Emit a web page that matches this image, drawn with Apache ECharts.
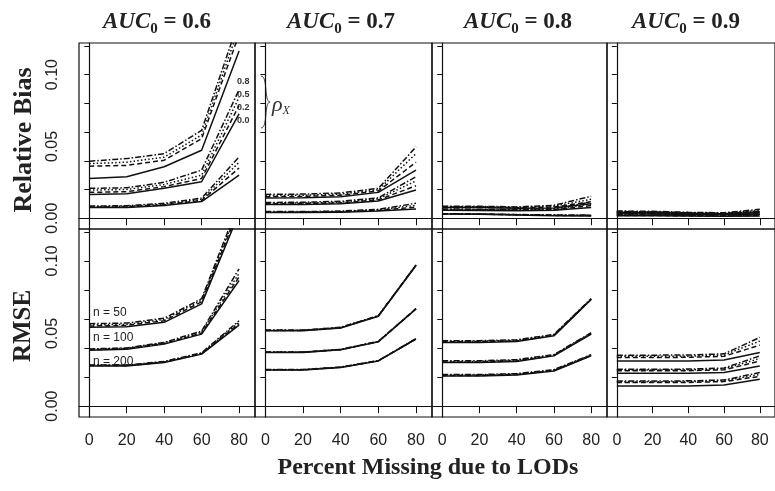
<!DOCTYPE html>
<html>
<head>
<meta charset="utf-8">
<script src="https://cdn.jsdelivr.net/npm/echarts@6/dist/echarts.min.js"></script>
<style>
  html, body { margin: 0; padding: 0; background: #fff; }
  #chart { width: 775px; height: 491px; }
</style>
</head>
<body>
<div id="chart"></div>
<script>
// Percent of values missing due to limits of detection (x axis)
const percentMissing = [0, 20, 40, 60, 80];
const xTicks = [0, 20, 40, 60, 80];
const yTicks = [0, 0.02, 0.04, 0.06, 0.08, 0.10, 0.12];
const yLabels = [0, 0.05, 0.10];
const aucLevels = ['0.6', '0.7', '0.8', '0.9'];
const rhoLevels = ['0.0', '0.2', '0.5', '0.8'];
const sampleSizes = [50, 100, 200];

// Relative bias; each array holds one row per rho level (0.0, 0.2, 0.5, 0.8)
const biasAuc06N50 = [
  [0.0277, 0.0289, 0.0358, 0.0473, 0.1165],
  [0.0362, 0.0368, 0.0404, 0.0554, 0.1280],
  [0.0380, 0.0390, 0.0425, 0.0580, 0.1330],
  [0.0397, 0.0415, 0.0450, 0.0612, 0.1380]
];
const biasAuc06N100 = [
  [0.0166, 0.0170, 0.0208, 0.0254, 0.0727],
  [0.0180, 0.0185, 0.0220, 0.0277, 0.0785],
  [0.0196, 0.0200, 0.0235, 0.0300, 0.0842],
  [0.0208, 0.0212, 0.0250, 0.0335, 0.0895]
];
const biasAuc06N200 = [
  [0.0074, 0.0074, 0.0088, 0.0116, 0.0300],
  [0.0078, 0.0079, 0.0093, 0.0124, 0.0350],
  [0.0081, 0.0083, 0.0098, 0.0131, 0.0390],
  [0.0085, 0.0087, 0.0104, 0.0140, 0.0427]
];
const biasAuc07N50 = [
  [0.0140, 0.0142, 0.0150, 0.0180, 0.0335],
  [0.0150, 0.0152, 0.0160, 0.0190, 0.0390],
  [0.0158, 0.0160, 0.0168, 0.0198, 0.0450],
  [0.0166, 0.0168, 0.0176, 0.0208, 0.0496]
];
const biasAuc07N100 = [
  [0.0095, 0.0096, 0.0100, 0.0120, 0.0196],
  [0.0100, 0.0101, 0.0106, 0.0128, 0.0226],
  [0.0105, 0.0106, 0.0112, 0.0135, 0.0260],
  [0.0110, 0.0111, 0.0118, 0.0142, 0.0289]
];
const biasAuc07N200 = [
  [0.0040, 0.0040, 0.0042, 0.0050, 0.0065],
  [0.0042, 0.0042, 0.0045, 0.0054, 0.0078],
  [0.0044, 0.0044, 0.0047, 0.0058, 0.0090],
  [0.0046, 0.0046, 0.0050, 0.0062, 0.0104]
];
const biasAuc08N50 = [
  [0.0075, 0.0074, 0.0070, 0.0072, 0.0100],
  [0.0078, 0.0077, 0.0073, 0.0078, 0.0115],
  [0.0081, 0.0080, 0.0076, 0.0084, 0.0132],
  [0.0084, 0.0083, 0.0079, 0.0090, 0.0153]
];
const biasAuc08N100 = [
  [0.0055, 0.0054, 0.0052, 0.0055, 0.0075],
  [0.0058, 0.0057, 0.0055, 0.0059, 0.0088],
  [0.0061, 0.0060, 0.0058, 0.0063, 0.0100],
  [0.0064, 0.0063, 0.0061, 0.0067, 0.0112]
];
const biasAuc08N200 = [
  [0.0030, 0.0027, 0.0022, 0.0018, 0.0015],
  [0.0030, 0.0028, 0.0024, 0.0020, 0.0018],
  [0.0031, 0.0029, 0.0025, 0.0022, 0.0020],
  [0.0032, 0.0030, 0.0026, 0.0023, 0.0022]
];
const biasAuc09N50 = [
  [0.0042, 0.0040, 0.0035, 0.0032, 0.0040],
  [0.0045, 0.0043, 0.0037, 0.0034, 0.0047],
  [0.0047, 0.0045, 0.0039, 0.0036, 0.0054],
  [0.0050, 0.0048, 0.0041, 0.0038, 0.0062]
];
const biasAuc09N100 = [
  [0.0032, 0.0030, 0.0027, 0.0025, 0.0030],
  [0.0034, 0.0032, 0.0029, 0.0027, 0.0035],
  [0.0036, 0.0034, 0.0031, 0.0029, 0.0040],
  [0.0038, 0.0036, 0.0033, 0.0031, 0.0046]
];
const biasAuc09N200 = [
  [0.0018, 0.0017, 0.0015, 0.0013, 0.0015],
  [0.0020, 0.0019, 0.0017, 0.0015, 0.0019],
  [0.0022, 0.0021, 0.0019, 0.0017, 0.0023],
  [0.0024, 0.0023, 0.0021, 0.0019, 0.0027]
];

// Root mean squared error; same layout
const rmseAuc06N50 = [
  [0.0543, 0.0547, 0.0577, 0.0704, 0.1330],
  [0.0552, 0.0556, 0.0588, 0.0718, 0.1360],
  [0.0560, 0.0563, 0.0597, 0.0730, 0.1380],
  [0.0568, 0.0572, 0.0605, 0.0740, 0.1400]
];
const rmseAuc06N100 = [
  [0.0385, 0.0392, 0.0427, 0.0496, 0.0865],
  [0.0388, 0.0395, 0.0431, 0.0503, 0.0890],
  [0.0391, 0.0398, 0.0435, 0.0510, 0.0915],
  [0.0394, 0.0401, 0.0439, 0.0517, 0.0946]
];
const rmseAuc06N200 = [
  [0.0277, 0.0277, 0.0300, 0.0358, 0.0558],
  [0.0279, 0.0279, 0.0303, 0.0361, 0.0568],
  [0.0281, 0.0281, 0.0305, 0.0364, 0.0578],
  [0.0283, 0.0283, 0.0308, 0.0367, 0.0588]
];
const rmseAuc07N50 = [
  [0.0519, 0.0519, 0.0538, 0.0619, 0.0969],
  [0.0521, 0.0521, 0.0540, 0.0621, 0.0970],
  [0.0523, 0.0522, 0.0541, 0.0622, 0.0971],
  [0.0525, 0.0524, 0.0543, 0.0623, 0.0972]
];
const rmseAuc07N100 = [
  [0.0370, 0.0370, 0.0388, 0.0443, 0.0669],
  [0.0371, 0.0371, 0.0389, 0.0444, 0.0670],
  [0.0372, 0.0372, 0.0390, 0.0445, 0.0671],
  [0.0373, 0.0373, 0.0391, 0.0446, 0.0672]
];
const rmseAuc07N200 = [
  [0.0249, 0.0249, 0.0266, 0.0311, 0.0462],
  [0.0250, 0.0250, 0.0267, 0.0312, 0.0463],
  [0.0251, 0.0251, 0.0268, 0.0313, 0.0464],
  [0.0252, 0.0252, 0.0269, 0.0314, 0.0465]
];
const rmseAuc08N50 = [
  [0.0439, 0.0439, 0.0445, 0.0484, 0.0734],
  [0.0443, 0.0443, 0.0449, 0.0488, 0.0736],
  [0.0447, 0.0447, 0.0453, 0.0491, 0.0738],
  [0.0451, 0.0451, 0.0457, 0.0494, 0.0741]
];
const rmseAuc08N100 = [
  [0.0300, 0.0300, 0.0308, 0.0346, 0.0496],
  [0.0304, 0.0304, 0.0312, 0.0349, 0.0499],
  [0.0308, 0.0308, 0.0316, 0.0352, 0.0502],
  [0.0312, 0.0312, 0.0320, 0.0355, 0.0506]
];
const rmseAuc08N200 = [
  [0.0208, 0.0208, 0.0215, 0.0242, 0.0346],
  [0.0211, 0.0211, 0.0218, 0.0245, 0.0349],
  [0.0214, 0.0214, 0.0221, 0.0248, 0.0352],
  [0.0217, 0.0217, 0.0224, 0.0251, 0.0355]
];
const rmseAuc09N50 = [
  [0.0311, 0.0311, 0.0311, 0.0318, 0.0370],
  [0.0335, 0.0335, 0.0336, 0.0343, 0.0420],
  [0.0343, 0.0343, 0.0344, 0.0352, 0.0448],
  [0.0351, 0.0351, 0.0352, 0.0360, 0.0473]
];
const rmseAuc09N100 = [
  [0.0226, 0.0226, 0.0226, 0.0232, 0.0277],
  [0.0243, 0.0243, 0.0244, 0.0250, 0.0310],
  [0.0249, 0.0249, 0.0250, 0.0256, 0.0328],
  [0.0254, 0.0254, 0.0255, 0.0262, 0.0346]
];
const rmseAuc09N200 = [
  [0.0138, 0.0138, 0.0138, 0.0145, 0.0185],
  [0.0162, 0.0162, 0.0163, 0.0169, 0.0205],
  [0.0168, 0.0168, 0.0169, 0.0175, 0.0218],
  [0.0173, 0.0173, 0.0174, 0.0180, 0.0231]
];

const biasPanels = [
  [biasAuc06N50, biasAuc06N100, biasAuc06N200],
  [biasAuc07N50, biasAuc07N100, biasAuc07N200],
  [biasAuc08N50, biasAuc08N100, biasAuc08N200],
  [biasAuc09N50, biasAuc09N100, biasAuc09N200]
];
const rmsePanels = [
  [rmseAuc06N50, rmseAuc06N100, rmseAuc06N200],
  [rmseAuc07N50, rmseAuc07N100, rmseAuc07N200],
  [rmseAuc08N50, rmseAuc08N100, rmseAuc08N200],
  [rmseAuc09N50, rmseAuc09N100, rmseAuc09N200]
];

// line pattern for each rho level: solid, dashed, dotted, dot-dash
const rhoDash = ['solid', [5, 3], [1.5, 2.2], [6, 2, 1.5, 2]];

const INK = '#111';
const SERIF = '"Liberation Serif", "DejaVu Serif", serif';
const SANS = '"Liberation Sans", Arial, sans-serif';

// panels share their edges, so each one starts where the previous ends
const panelLeft = [79, 255, 432, 607];
const panelWidth = [176, 177, 175, 176];
const rowTop = [43, 229];
const rowHeight = [186, 188];

const grids = [], xAxes = [], yAxes = [], series = [];

[biasPanels, rmsePanels].forEach((rowData, r) => {
  rowData.forEach((panel, c) => {
    const idx = grids.length;
    grids.push({
      left: panelLeft[c], top: rowTop[r], width: panelWidth[c], height: rowHeight[r],
      show: true, borderColor: INK, borderWidth: 1.2, backgroundColor: 'transparent'
    });
    xAxes.push({
      gridIndex: idx, type: 'value', min: -5.5, max: 88.5,
      axisLine: { show: true, lineStyle: { color: INK, width: 1.2 } },
      axisTick: { show: true, inside: false, length: 7, customValues: xTicks,
                  lineStyle: { color: INK, width: 1 } },
      axisLabel: { show: r === 1, customValues: xTicks, margin: 16,
                   fontFamily: SANS, fontSize: 16, color: '#222' },
      splitLine: { show: false }
    });
    yAxes.push({
      gridIndex: idx, type: 'value', min: -0.0075, max: 0.122,
      axisLine: { show: true, lineStyle: { color: INK, width: 1.2 } },
      axisTick: { show: true, inside: false, length: 5, customValues: yTicks,
                  lineStyle: { color: INK, width: 1 } },
      axisLabel: { show: c === 0, customValues: yLabels, rotate: 90, margin: 18,
                   fontFamily: SANS, fontSize: 16, color: '#222',
                   formatter: v => v.toFixed(2) },
      splitLine: { show: false }
    });
    panel.forEach((group, g) => {
      group.forEach((vals, k) => {
        series.push({
          name: 'AUC ' + aucLevels[c] + ' n=' + sampleSizes[g] + ' rho=' + rhoLevels[k],
          type: 'line', xAxisIndex: idx, yAxisIndex: idx,
          data: percentMissing.map((x, i) => [x, vals[i]]),
          symbol: 'none', clip: true, silent: true,
          lineStyle: { color: INK, width: 1.5, type: rhoDash[k] }
        });
      });
    });
  });
});

// panel headings: AUC with subscript 0
const titleX = [157, 341, 518, 686];
const titleGraphics = aucLevels.map((a, c) => ({
  type: 'text', x: titleX[c], y: 22,
  style: {
    text: '{a|AUC}{s|0}{b| = ' + a + '}',
    align: 'center', verticalAlign: 'middle', fill: '#222',
    rich: {
      a: { fontFamily: SERIF, fontSize: 23, fontWeight: 'bold', fontStyle: 'italic',
           lineHeight: 30, verticalAlign: 'middle', fill: '#222' },
      s: { fontFamily: SERIF, fontSize: 15, fontWeight: 'bold',
           lineHeight: 15, verticalAlign: 'bottom', fill: '#222' },
      b: { fontFamily: SERIF, fontSize: 23, fontWeight: 'bold',
           lineHeight: 30, verticalAlign: 'middle', fill: '#222' }
    }
  }
}));

const rhoTags = ['0.8', '0.5', '0.2', '0.0'];
const rhoTagY = [82, 95, 108, 121];

const graphics = titleGraphics.concat([
  { type: 'text', x: 24, y: 140, rotation: Math.PI / 2,
    style: { text: 'Relative Bias', font: 'bold 26px ' + SERIF, fill: '#222',
             align: 'center', verticalAlign: 'middle' } },
  { type: 'text', x: 24, y: 326, rotation: Math.PI / 2,
    style: { text: 'RMSE', font: 'bold 25px ' + SERIF, fill: '#222',
             align: 'center', verticalAlign: 'middle' } },
  { type: 'text', x: 428, y: 468,
    style: { text: 'Percent Missing due to LODs', font: 'bold 24px ' + SERIF, fill: '#222',
             align: 'center', verticalAlign: 'middle' } },
  // rho level tags next to the n = 100 curves
  ...rhoTags.map((t, i) => ({
    type: 'text', x: 237, y: rhoTagY[i],
    style: { text: t, font: 'bold 9px ' + SANS, fill: '#333',
             align: 'left', verticalAlign: 'middle' }
  })),
  // brace grouping the rho tags
  { type: 'bezierCurve',
    shape: { x1: 261, y1: 76, cpx1: 268, cpy1: 76, cpx2: 264, cpy2: 102, x2: 270, y2: 102 },
    style: { stroke: '#444', lineWidth: 1, fill: null } },
  { type: 'bezierCurve',
    shape: { x1: 270, y1: 102, cpx1: 264, cpy1: 102, cpx2: 268, cpy2: 128, x2: 261, y2: 128 },
    style: { stroke: '#444', lineWidth: 1, fill: null } },
  { type: 'text', x: 272, y: 105,
    style: {
      text: '{r|ρ}{x|X}', align: 'left', verticalAlign: 'middle',
      rich: {
        r: { fontFamily: SERIF, fontSize: 22, fontStyle: 'italic', lineHeight: 24,
             verticalAlign: 'middle', fill: '#333' },
        x: { fontFamily: SERIF, fontSize: 12, fontStyle: 'italic', lineHeight: 12,
             verticalAlign: 'bottom', fill: '#333' }
      }
    } },
  // sample size tags
  ...sampleSizes.map((n, i) => ({
    type: 'text', x: 93, y: [313, 338, 362][i],
    style: { text: 'n = ' + n, font: '12px ' + SANS, fill: '#222',
             align: 'left', verticalAlign: 'middle' }
  }))
]);

const chart = echarts.init(document.getElementById('chart'), null, { renderer: 'canvas' });
chart.setOption({
  animation: false,
  backgroundColor: '#fff',
  grid: grids,
  xAxis: xAxes,
  yAxis: yAxes,
  series: series,
  graphic: graphics
});
</script>
</body>
</html>
